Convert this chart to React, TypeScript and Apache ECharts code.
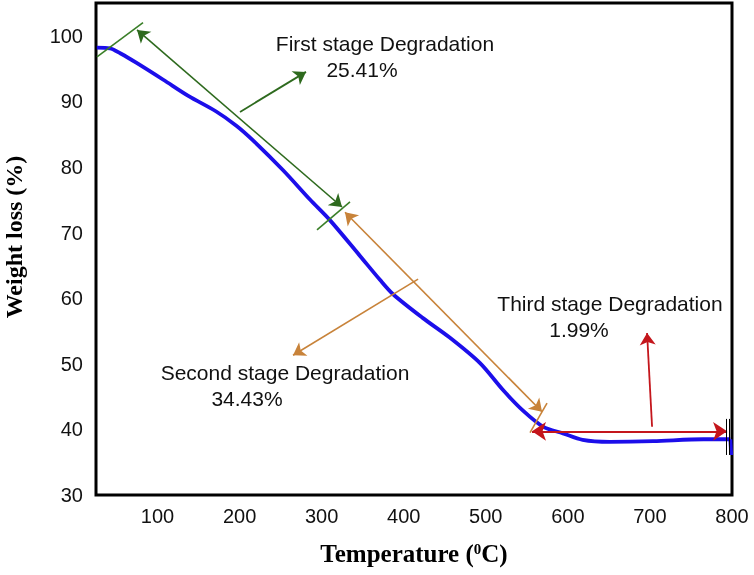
import React, { useEffect, useRef } from "react";
import * as echarts from "echarts";

// TGA curve (temperature °C, weight %)
const temperature = [26, 42, 55, 74, 107, 138, 171, 196, 216, 253, 286, 310, 347, 371, 387, 423, 456, 493, 521, 545, 570, 594, 618, 651, 704, 765, 798];
const weight = [98.2, 98.1, 97.3, 95.9, 93.3, 90.8, 88.5, 86.3, 84.1, 79.5, 75.0, 71.9, 66.4, 62.8, 60.6, 57.0, 54.0, 50.1, 46.0, 42.9, 40.4, 39.4, 38.4, 38.1, 38.2, 38.5, 38.5];
// final drop at the end of the run
const endTemperature = [798, 799];
const endWeight = [38.5, 36.1];

const xTickLabels = [100, 200, 300, 400, 500, 600, 700, 800];
const yTickLabels = [30, 40, 50, 60, 70, 80, 90, 100];

// annotation segments in data coordinates [[T1, W1], [T2, W2]]
const greenSpan = [[75.0, 100.9], [324.8, 73.9]];
const greenTicks = [
  [[26.2, 96.8], [82.3, 102.0]],
  [[294.3, 70.4], [334.5, 74.7]],
];
const greenPointer = [[200.5, 88.4], [280.9, 94.5]];

const orangeSpan = [[328.4, 73.1], [568.5, 42.7]];
const orangeTicks = [[[553.9, 39.5], [574.6, 44.0]]];
const orangePointer = [[417.5, 62.9], [265.1, 51.3]];

const redSpan = [[556.3, 39.7], [794.0, 39.7]];
const redPointer = [[702.6, 40.4], [696.5, 54.7]];
const blackTicks = [
  [[792.7, 41.6], [792.7, 36.1]],
  [[796.4, 41.6], [796.4, 36.1]],
];

const stageLabels = ["First stage Degradation", "Second stage Degradation", "Third stage Degradation"];
const stagePercents = ["25.41%", "34.43%", "1.99%"];

const GREEN = "#2E6A1E";
const GREEN_TICK = "#3A7F28";
const ORANGE = "#C8833A";
const RED = "#C4161C";
const BLUE = "#1C0EEA";

function linesSeries(segs: number[][][], color: string, symbol: string[], width = 1.6, size = 12) {
  return {
    type: "lines",
    coordinateSystem: "cartesian2d",
    silent: true,
    symbol,
    symbolSize: size,
    lineStyle: { color, width, opacity: 1, curveness: 0 },
    data: segs.map((s) => ({ coords: s })),
    z: 3,
  };
}

export default function App() {
  const ref = useRef<HTMLDivElement>(null);
  useEffect(() => {
    if (!ref.current) return;
    const chart = echarts.init(ref.current, undefined, { renderer: "svg" });
    const textFont = { fontFamily: "Liberation Sans", fontSize: 21, fill: "#111" };
    chart.setOption({
      animation: false,
      grid: {
        left: 96,
        right: 22,
        top: 3,
        bottom: 80,
        show: true,
        borderColor: "#000",
        borderWidth: 3,
      },
      xAxis: {
        type: "value",
        min: 25,
        max: 800,
        axisLine: { show: false },
        axisTick: { show: false },
        splitLine: { show: false },
        axisLabel: {
          customValues: xTickLabels,
          fontFamily: "Liberation Sans",
          fontSize: 20,
          color: "#111",
          margin: 11,
        },
        name: "{a|Temperature (}{s|0}{a|C)}",
        nameLocation: "middle",
        nameGap: 46,
        nameTextStyle: {
          rich: {
            a: { fontFamily: "Liberation Serif", fontWeight: "bold", fontSize: 25, color: "#000" },
            s: { fontFamily: "Liberation Serif", fontWeight: "bold", fontSize: 15, color: "#000", verticalAlign: "top", padding: [0, 0, 8, 0] },
          },
        },
      },
      yAxis: {
        type: "value",
        min: 30,
        max: 105,
        axisLine: { show: false },
        axisTick: { show: false },
        splitLine: { show: false },
        axisLabel: {
          customValues: yTickLabels,
          fontFamily: "Liberation Sans",
          fontSize: 20,
          color: "#111",
          margin: 13,
        },
      },
      graphic: [
        {
          type: "text",
          x: 14,
          y: 237,
          rotation: Math.PI / 2,
          style: {
            text: "Weight loss (%)",
            fontFamily: "Liberation Serif",
            fontWeight: "bold",
            fontSize: 24,
            fill: "#000",
            align: "center",
            verticalAlign: "middle",
          },
        },
        { type: "text", x: 385, y: 43, style: { ...textFont, text: stageLabels[0], align: "center", verticalAlign: "middle" } },
        { type: "text", x: 362, y: 69, style: { ...textFont, text: stagePercents[0], align: "center", verticalAlign: "middle" } },
        { type: "text", x: 285, y: 372, style: { ...textFont, text: stageLabels[1], align: "center", verticalAlign: "middle" } },
        { type: "text", x: 247, y: 398, style: { ...textFont, text: stagePercents[1], align: "center", verticalAlign: "middle" } },
        { type: "text", x: 610, y: 303, style: { ...textFont, text: stageLabels[2], align: "center", verticalAlign: "middle" } },
        { type: "text", x: 579, y: 329, style: { ...textFont, text: stagePercents[2], align: "center", verticalAlign: "middle" } },
      ],
      series: [
        {
          type: "line",
          data: temperature.map((t, i) => [t, weight[i]]),
          showSymbol: false,
          smooth: 0.3,
          lineStyle: { color: BLUE, width: 3.8 },
          z: 2,
        },
        {
          type: "line",
          data: endTemperature.map((t, i) => [t, endWeight[i]]),
          showSymbol: false,
          lineStyle: { color: BLUE, width: 3.8 },
          z: 2,
        },
        linesSeries([greenSpan], GREEN, ["arrow", "arrow"]),
        linesSeries(greenTicks, GREEN_TICK, ["none", "none"]),
        linesSeries([greenPointer], GREEN, ["none", "arrow"], 1.8),
        linesSeries([orangeSpan], ORANGE, ["arrow", "arrow"]),
        linesSeries(orangeTicks, ORANGE, ["none", "none"]),
        linesSeries([orangePointer], ORANGE, ["none", "arrow"]),
        linesSeries([redSpan], RED, ["arrow", "arrow"], 1.8, 14),
        linesSeries([redPointer], RED, ["none", "arrow"], 1.8),
        linesSeries(blackTicks, "#000", ["none", "none"], 1),
      ],
    });
    return () => chart.dispose();
  }, []);
  return <div ref={ref} style={{ position: "fixed", left: 0, top: 0, width: 754, height: 575 }} />;
}
